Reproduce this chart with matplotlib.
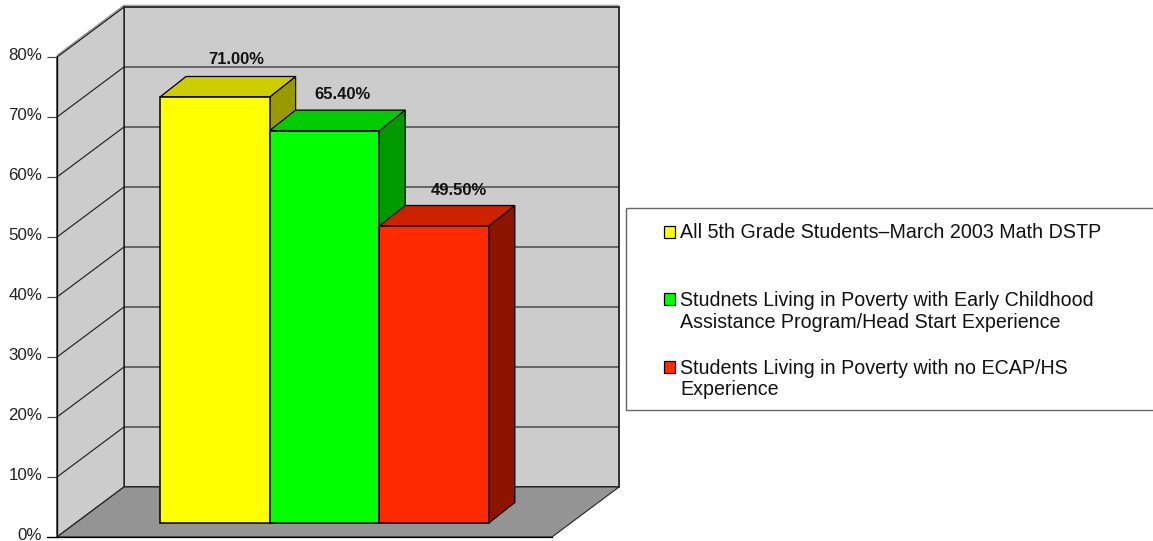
import matplotlib
matplotlib.use("Agg")
import matplotlib.pyplot as plt
from matplotlib.patches import Polygon, Rectangle
from matplotlib.transforms import ScaledTranslation

plt.rcParams['font.family'] = ['Liberation Sans', 'DejaVu Sans']

values = [71.0, 65.4, 49.5]
value_labels = ["71.00%", "65.40%", "49.50%"]
legend_labels = ["All 5th Grade Students\u2013March 2003 Math DSTP",
                 "Studnets Living in Poverty with Early Childhood\nAssistance Program/Head Start Experience",
                 "Students Living in Poverty with no ECAP/HS\nExperience"]
front_colors = ["#ffff00", "#00ff00", "#ff2a00"]
top_colors = ["#cccc00", "#00cc00", "#cc2200"]
side_colors = ["#999900", "#009900", "#8c1400"]
yticks = [0, 10, 20, 30, 40, 50, 60, 70, 80]

W, H = 1153, 541
fig = plt.figure(figsize=(W / 100, H / 100), dpi=100)
# the front plane of the box: x stays in pixels, y in percent
ax = fig.add_axes([57 / W, (H - 537) / H, (552 - 57) / W, 480 / H])
ax.set_xlim(57, 552)
ax.set_ylim(0, 80)
ax.patch.set_visible(False)

dx, dy = 67, 50 / 6  # depth of the box
bar_dx, bar_dy = 26, 20.5 / 6  # depth of a bar
bar_base = 14 / 6
bar_left = 160
bar_w = 109.6
line_col = "#222222"

# walls and floor
ax.add_patch(Polygon([(57 + dx, dy), (552 + dx, dy), (552 + dx, 80 + dy), (57 + dx, 80 + dy)],
                     fc="#cccccc", ec=line_col, lw=1.3, clip_on=False, zorder=1))
ax.add_patch(Polygon([(57, 0), (57 + dx, dy), (57 + dx, 80 + dy), (57, 80)],
                     fc="#cccccc", ec=line_col, lw=1.0, clip_on=False, zorder=1))
ax.add_patch(Polygon([(57, 0), (552, 0), (552 + dx, dy), (57 + dx, dy)],
                     fc="#949494", ec=line_col, lw=0.8, clip_on=False, zorder=1))
for t in yticks[1:-1]:
    ax.plot([57, 57 + dx, 552 + dx], [t, t + dy, t + dy], color=line_col, lw=0.85,
            clip_on=False, zorder=2, solid_joinstyle="miter")
# faint second line along the top edge
ax.plot([57, 57 + dx, 552 + dx], [80.3, 80.3 + dy, 80.3 + dy], color="#777777", lw=0.6,
        clip_on=False, zorder=2, solid_joinstyle="miter")

# bars
xs = [bar_left + bar_w * i for i in range(len(values))]
ax.bar(xs, values, width=bar_w, bottom=bar_base, align="edge", color=front_colors,
       edgecolor="black", linewidth=1.1, zorder=5)
label_dx = [8.5, 5, 12]
label_dy = [2.8, 2.55, 2.55]
for i, v in enumerate(values):
    x0, x1 = xs[i], xs[i] + bar_w
    y0, y1 = bar_base, bar_base + v
    ax.add_patch(Polygon([(x1, y0), (x1 + bar_dx, y0 + bar_dy), (x1 + bar_dx, y1 + bar_dy), (x1, y1)],
                         fc=side_colors[i], ec="black", lw=0.9, clip_on=False, zorder=3 + i * 0.1))
    ax.add_patch(Polygon([(x0, y1), (x1, y1), (x1 + bar_dx, y1 + bar_dy), (x0 + bar_dx, y1 + bar_dy)],
                         fc=top_colors[i], ec="black", lw=0.9, clip_on=False, zorder=3 + i * 0.1))
    ax.text((x0 + x1 + bar_dx) / 2 + label_dx[i], y1 + bar_dy + label_dy[i], value_labels[i],
            ha="center", va="center", fontsize=11.9, fontweight="bold", color="#111111", zorder=7)

# axis
ax.set_xticks([])
ax.set_yticks(yticks)
ax.set_yticklabels([f"{t}%" for t in yticks], fontsize=12.2, color="#222222")
ax.tick_params(axis="y", length=7.2, width=0.85, color="#444444", pad=3.4)
up = ScaledTranslation(0, 2 / 72, fig.dpi_scale_trans)
for lab in ax.get_yticklabels():
    lab.set_transform(lab.get_transform() + up)
for s in ["top", "right"]:
    ax.spines[s].set_visible(False)
for s in ["left", "bottom"]:
    ax.spines[s].set_color("black")
    ax.spines[s].set_linewidth(0.9)
    ax.spines[s].set_zorder(4)
ax.plot([47, 57], [0, 0], color="black", lw=0.9, clip_on=False, zorder=4)

# legend, laid out by hand because the rows are unevenly spaced
def fx(px):
    return px / W

def fy(px):
    return (H - px) / H

fig.add_artist(Rectangle((fx(626), fy(410)), fx(540), 202 / H, transform=fig.transFigure,
                         fc="white", ec="#666666", lw=1.0))
marker_tops = [226, 293, 361]
text_tops = [223.5, 291.5, 358.5]
for i, lab in enumerate(legend_labels):
    fig.add_artist(Rectangle((fx(663.5), fy(marker_tops[i] + 11.5)), 11.5 / W, 11.5 / H,
                             transform=fig.transFigure, fc=front_colors[i], ec="black", lw=0.9))
    fig.text(fx(680), fy(text_tops[i]), lab, ha="left", va="top", fontsize=14.15,
             color="#111111", linespacing=1.16)

fig.savefig("out.png", dpi=100)
